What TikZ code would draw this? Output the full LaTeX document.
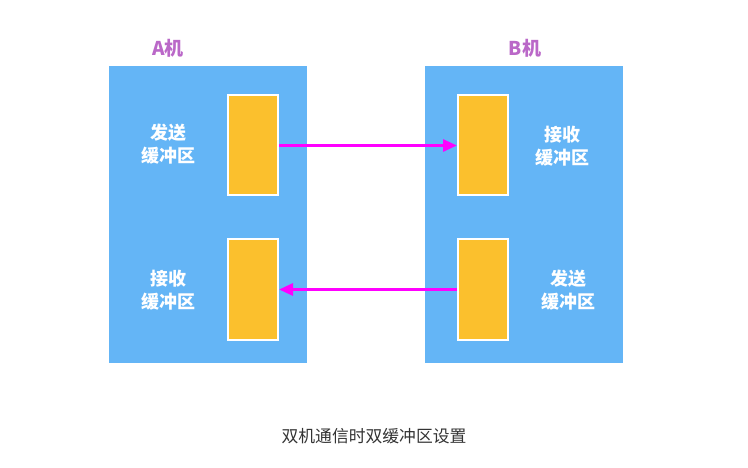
\documentclass[tikz,border=0pt]{standalone}
\usepackage{fontspec}
\usepackage{xcolor}
\usepackage{tikz}
\usetikzlibrary{arrows.meta,positioning}
\newfontfamily\cjk{Noto Sans CJK SC}
\definecolor{hostblue}{HTML}{64B5F6}
\definecolor{bufyellow}{HTML}{FBC02D}
\definecolor{titlepurple}{HTML}{BA68C8}
\definecolor{flowpink}{HTML}{FF00FF}
\definecolor{capgray}{HTML}{333333}
\begin{document}
\begin{tikzpicture}[x=1pt,y=-1pt,
   host/.style={fill=hostblue,minimum width=198pt,minimum height=297pt,inner sep=0pt},
   buf/.style={draw=white,line width=2pt,fill=bufyellow,minimum width=50pt,
               minimum height=100pt,inner sep=0pt},
   lbl/.style={text=white,align=center,font=\cjk\bfseries\fontsize{18pt}{23pt}\selectfont},
   ttl/.style={text=titlepurple,font=\cjk\bfseries\fontsize{19pt}{20pt}\selectfont},
   flow/.style={draw=flowpink,line width=3pt,-{Triangle[length=14pt,width=12pt]}}]
  \useasboundingbox (0,0) rectangle (748,468);
  \node[host] (ha) at (208,214.5) {};
  \node[host] (hb) at (524,214.5) {};
  \node[ttl] (ta) at (168,48) {A机};
  \node[ttl] (tb) at (525,48) {B机};
  \node[buf] (sa) at (253,145.5) {};
  \node[buf] (ra) at (253,289.5) {};
  \node[buf] (rb) at (483,145.5) {};
  \node[buf] (sb) at (483,289.5) {};
  \node[lbl] (lsa) at (168,144) {发送\\缓冲区};
  \node[lbl] (lra) at (168,290) {接收\\缓冲区};
  \node[lbl] (lrb) at (562,146) {接收\\缓冲区};
  \node[lbl] (lsb) at (568,290) {发送\\缓冲区};
  \draw[flow] (sa.east) -- (rb.west);
  \draw[flow] (sb.west) -- (ra.east);
  \node[text=capgray,font=\cjk\fontsize{16.8pt}{18pt}\selectfont] (cap) at (374,436) {双机通信时双缓冲区设置};
\end{tikzpicture}
\end{document}
